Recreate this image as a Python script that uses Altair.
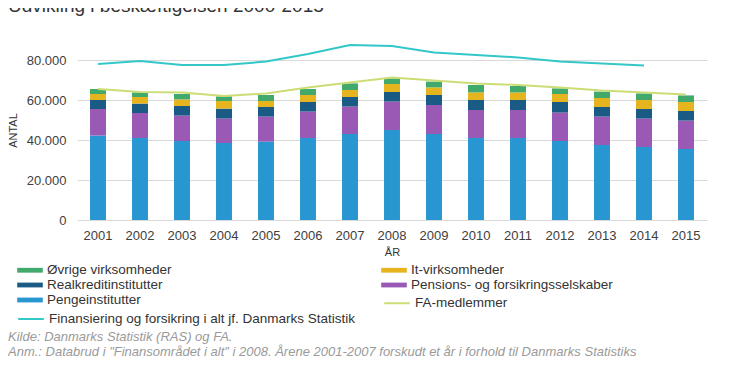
import altair as alt
import pandas as pd

years = [str(y) for y in range(2001, 2016)]
# legend order (column-major, 2 columns)
bar_names = [
    "Øvrige virksomheder",
    "Realkreditinstitutter",
    "Pengeinstitutter",
    "It-virksomheder",
    "Pensions- og forsikringsselskaber",
]
bar_colors = ["#41a96b", "#1a5b86", "#2896d0", "#e6b41f", "#9b59b6"]
line_names = [" ", "Finansiering og forsikring i alt jf. Danmarks Statistik", "FA-medlemmer"]
line_colors = ["transparent", "#33c7c7", "#cddd76"]

peng = [42300, 41000, 39500, 38500, 39200, 41000, 43000, 45000, 43000, 41000, 41000, 39500, 37500, 36500, 35500]
pension = [13200, 12500, 12700, 12200, 12500, 13200, 13700, 14200, 14500, 14000, 14000, 14200, 14200, 14200, 14200]
real = [4500, 4700, 4800, 5000, 4800, 4800, 4800, 4800, 5000, 5000, 5000, 5300, 4800, 4800, 4800]
itv = [3000, 3300, 3300, 3800, 3000, 3500, 3500, 4000, 3800, 3800, 3800, 4000, 4500, 4500, 4500]
ovr = [2500, 2300, 2700, 2300, 3000, 3000, 3300, 2800, 2900, 3700, 3200, 2800, 3200, 3300, 3300]
fa = [65500, 64000, 63800, 62000, 63300, 66200, 68700, 71200, 69700, 68300, 67500, 66300, 64700, 63700, 62700]
fin = [78000, 79500, 77500, 77500, 79200, 83000, 87500, 87000, 83700, 82500, 81300, 79200, 78300, 77200]

title_text = "Udvikling i beskæftigelsen 2000-2015"
note_lines = [
    "Kilde: Danmarks Statistik (RAS) og FA.",
    'Anm.: Databrud i "Finansområdet i alt" i 2008. Årene 2001-2007 forskudt et år i forhold til Danmarks Statistiks',
    "offentliggjorte tal, idet brancheopdelingen blev ændret fra 2008, og der ikke findes sammenlignelige tal på året før og efter",
]

FONT = "Liberation Sans"

# tables built from the lists above (stack 0 = bottom)
bar_rows = []
for stack, (name, vals) in enumerate([
        ("Pengeinstitutter", peng), ("Pensions- og forsikringsselskaber", pension),
        ("Realkreditinstitutter", real), ("It-virksomheder", itv), ("Øvrige virksomheder", ovr)]):
    for y, v in zip(years, vals):
        bar_rows.append({"year": y, "serie": name, "value": v, "stack": stack})
bars_df = pd.DataFrame(bar_rows)

line_rows = []
for name, vals in [("FA-medlemmer", fa), ("Finansiering og forsikring i alt jf. Danmarks Statistik", fin)]:
    for y, v in zip(years, vals):
        line_rows.append({"year": y, "serie": name, "value": v})
lines_df = pd.DataFrame(line_rows)

bar_legend = alt.Legend(
    orient="none", legendX=-60, legendY=222, columns=2, columnPadding=209,
    rowPadding=0, title=None, symbolType="M-1.6,-0.3H1.6V0.3H-1.6Z", symbolSize=256,
    labelFontSize=13.5, labelColor="#333333", labelFont=FONT, labelLimit=400,
    labelOffset=9, symbolOffset=5, symbolStrokeWidth=0,
)
line_legend = alt.Legend(
    orient="none", legendX=-60, legendY=254, columns=2, columnPadding=24,
    rowPadding=0, title=None, symbolType="M-1.6,0H1.6", symbolSize=256,
    labelFontSize=13.5, labelColor="#333333", labelFont=FONT, labelLimit=400,
    labelOffset=9, symbolOffset=5, symbolStrokeWidth=2,
)

x_enc = alt.X("year:O", title="ÅR", scale=alt.Scale(paddingInner=0.62, paddingOuter=0.31),
              axis=alt.Axis(labelAngle=0, ticks=False, domain=False, labelFontSize=13,
                            labelColor="#404040", labelPadding=9, titleFontSize=11,
                            titleFontWeight="normal", titleColor="#333333", titlePadding=4))
y_enc = alt.Y("value:Q", title="ANTAL", stack="zero",
              scale=alt.Scale(domain=[0, 90000], nice=False),
              axis=alt.Axis(values=[0, 20000, 40000, 60000, 80000], ticks=False, domain=False,
                            labelExpr="replace(format(datum.value, ','), ',', '.')",
                            labelFontSize=13, labelColor="#404040", labelPadding=11,
                            titleFontSize=11, titleFontWeight="normal", titleColor="#333333",
                            titlePadding=8, gridColor="#d9d9d9"))

bars = alt.Chart(bars_df).mark_bar().encode(
    x=x_enc, y=y_enc,
    color=alt.Color("serie:N", scale=alt.Scale(domain=bar_names, range=bar_colors), legend=bar_legend),
    order=alt.Order("stack:Q", sort="ascending"),
)

lines = alt.Chart(lines_df).mark_line(strokeWidth=2).encode(
    x=alt.X("year:O"), y=alt.Y("value:Q", stack=None),
    stroke=alt.Stroke("serie:N", scale=alt.Scale(domain=line_names, range=line_colors), legend=line_legend),
)

title_mark = alt.Chart(pd.DataFrame({"t": [title_text]})).mark_text(
    align="left", baseline="alphabetic", fontSize=19, color="#333333", font=FONT
).encode(x=alt.value(-69), y=alt.value(-28), text="t:N")

note_layers = []
for i, t in enumerate(note_lines):
    note_layers.append(
        alt.Chart(pd.DataFrame({"t": [t]})).mark_text(
            align="left", baseline="middle", fontSize=13, fontStyle="italic",
            color="#9a9a9a", font=FONT
        ).encode(x=alt.value(-69), y=alt.value(296.5 + i * 15), text="t:N")
    )

chart = alt.layer(bars, lines, title_mark, *note_layers).properties(
    width=630, height=180,
    autosize=alt.AutoSizeParams(type="none"),
    padding={"left": 69, "top": 32, "right": 15, "bottom": 137},
).configure_view(stroke=None).configure_axis(
    labelFont=FONT, titleFont=FONT
)

chart.save("out.html", embed_options={"renderer": "svg", "actions": False})
